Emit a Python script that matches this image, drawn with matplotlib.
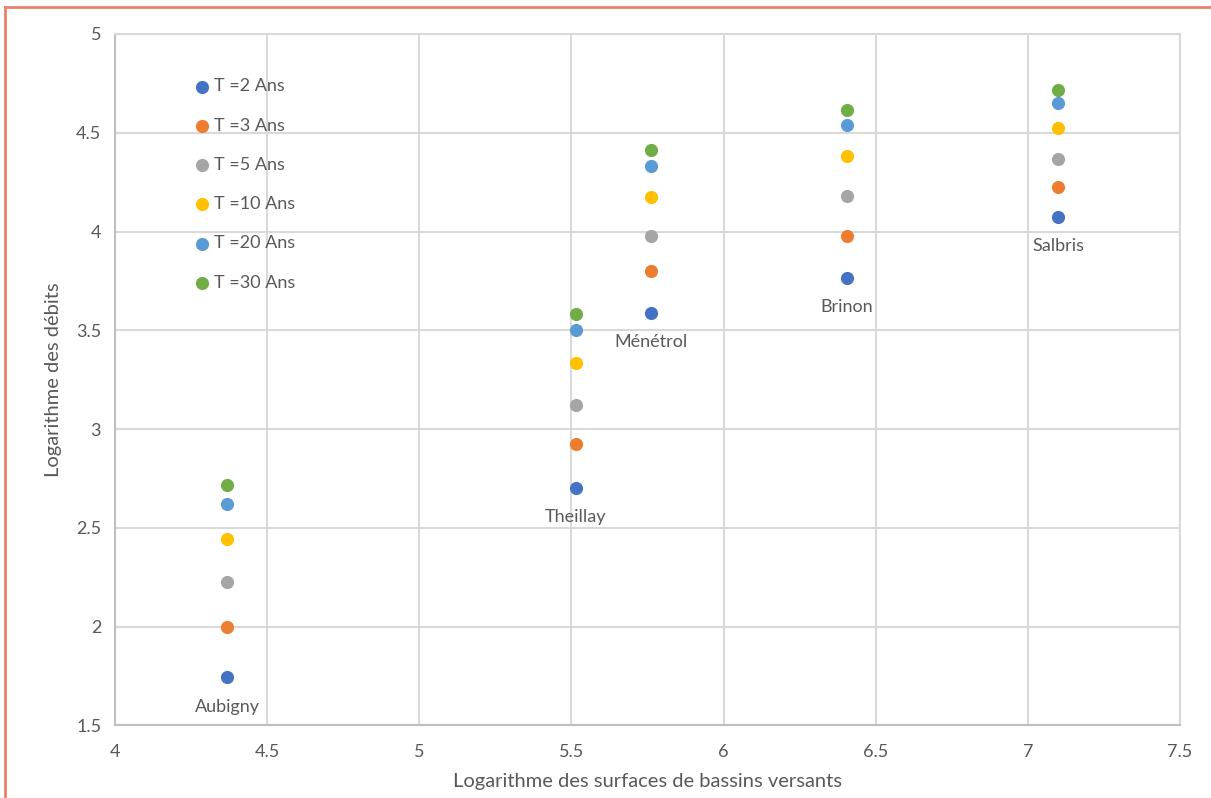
import matplotlib.pyplot as plt
from matplotlib.lines import Line2D

plt.rcParams['font.family'] = ['Lato', 'DejaVu Sans']

# log of catchment area per station
stations = ['Aubigny', 'Theillay', 'Ménétrol', 'Brinon', 'Salbris']
log_surface = [4.368, 5.514, 5.762, 6.406, 7.099]

# log of discharge for each return period
periods = ['T =2 Ans', 'T =3 Ans', 'T =5 Ans', 'T =10 Ans', 'T =20 Ans', 'T =30 Ans']
q_t2 = [1.743, 2.702, 3.590, 3.767, 4.072]
q_t3 = [1.996, 2.925, 3.798, 3.980, 4.224]
q_t5 = [2.225, 3.123, 3.975, 4.178, 4.366]
q_t10 = [2.443, 3.336, 4.173, 4.381, 4.523]
q_t20 = [2.620, 3.503, 4.330, 4.538, 4.650]
q_t30 = [2.717, 3.584, 4.411, 4.614, 4.716]

series = [q_t2, q_t3, q_t5, q_t10, q_t20, q_t30]
colors = ['#4472C4', '#ED7D31', '#A5A5A5', '#FFC000', '#5B9BD5', '#70AD47']

txt = '#595959'
grid = '#D9D9D9'

fig = plt.figure(figsize=(12.11, 7.98), dpi=100)
ax = fig.add_axes([0.095, 0.0909, 0.8794, 0.8665])

for vals, c, lab in zip(series, colors, periods):
    ax.scatter(log_surface, vals, s=90, color=c, label=lab, zorder=3, linewidths=0)

# station names under the T=2 points
for name, x, y in zip(stations, log_surface, q_t2):
    ax.annotate(name, (x, y), xytext=(0, -21), textcoords='offset points',
                ha='center', va='center', fontsize=13, color=txt)

ax.set_xlim(4, 7.5)
ax.set_ylim(1.5, 5)
ax.set_xticks([4, 4.5, 5, 5.5, 6, 6.5, 7, 7.5])
ax.set_xticklabels(['4', '4.5', '5', '5.5', '6', '6.5', '7', '7.5'])
ax.set_yticks([1.5, 2, 2.5, 3, 3.5, 4, 4.5, 5])
ax.set_yticklabels(['1.5', '2', '2.5', '3', '3.5', '4', '4.5', '5'])
ax.grid(True, color=grid, linewidth=1.5, zorder=0)
ax.set_axisbelow(True)
for sp in ax.spines.values():
    sp.set_color(grid)
    sp.set_linewidth(1.5)
ax.spines['left'].set_color('#BFBFBF')
ax.spines['bottom'].set_color('#BFBFBF')
ax.tick_params(length=0, labelsize=13, labelcolor=txt, pad=13)
ax.tick_params(axis='y', pad=10)

ax.set_xlabel('Logarithme des surfaces de bassins versants', fontsize=14.5, color=txt, labelpad=10)
ax.set_ylabel('Logarithme des débits', fontsize=14.5, color=txt, labelpad=10)

leg = ax.legend(loc='upper left', bbox_to_anchor=(0.063, 0.949), frameon=False,
                fontsize=13, labelspacing=1.29, handletextpad=0.05,
                handlelength=1.2, markerscale=1.0, borderpad=0)
for t in leg.get_texts():
    t.set_color(txt)

# orange frame of the original screenshot
fig.add_artist(Line2D([5 / 1211, 1], [1 - 7 / 798, 1 - 7 / 798], color='#E8836B', lw=2,
                      transform=fig.transFigure))
fig.add_artist(Line2D([5 / 1211, 5 / 1211], [0, 1 - 7 / 798], color='#E8836B', lw=2,
                      transform=fig.transFigure))

fig.savefig('out.png', dpi=100)
